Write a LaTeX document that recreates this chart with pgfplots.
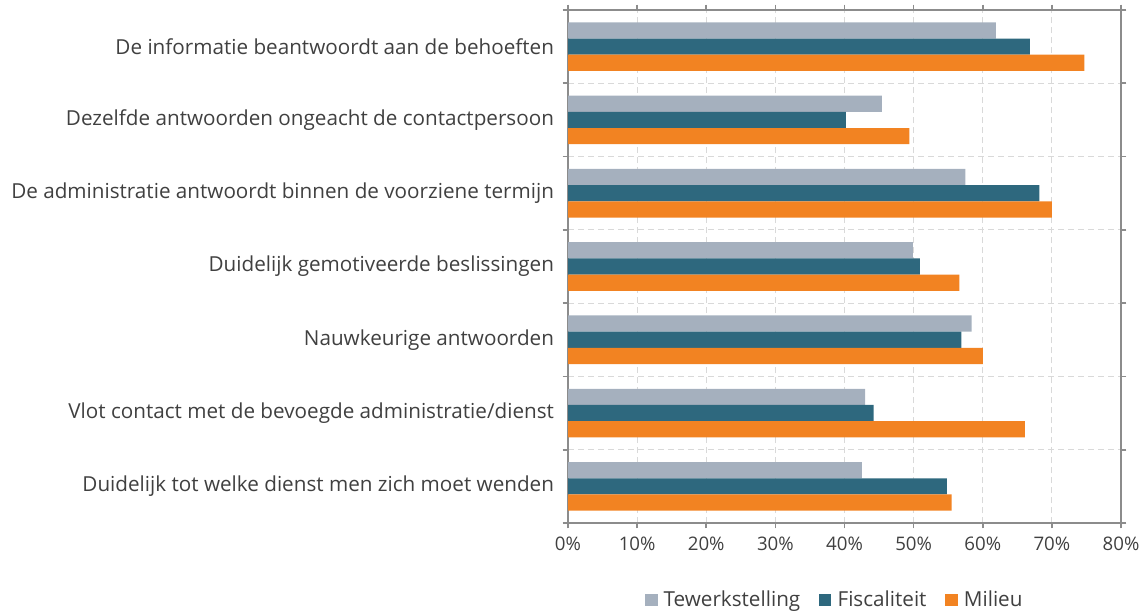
\documentclass[border=0pt]{standalone}
\usepackage{pgfplots}
\pgfplotsset{compat=1.18}
\usepackage{fontspec}
\setmainfont{Open Sans}
\definecolor{cTew}{HTML}{A5B0BE}
\definecolor{cFis}{HTML}{2E687E}
\definecolor{cMil}{HTML}{F28322}
\definecolor{txt}{HTML}{404040}
\definecolor{axgray}{HTML}{8C8C8C}
\definecolor{grd}{HTML}{D9D9D9}
\begin{document}
\begin{tikzpicture}
\useasboundingbox (0,0) rectangle (858.75pt,459pt);
\begin{axis}[
  at={(426pt,66.75pt)}, anchor=south west,
  scale only axis, width=414.75pt, height=384.75pt,
  xbar, bar width=12.15pt,
  xmin=0, xmax=80, ymin=0.5, ymax=7.5,
  xtick={0,10,...,80},
  xticklabels={0\%,10\%,20\%,30\%,40\%,50\%,60\%,70\%,80\%},
  ytick={0.5,1.5,...,7.5}, yticklabels={},
  extra y ticks={1,2,3,4,5,6,7},
  extra y tick labels={Duidelijk tot welke dienst men zich moet wenden,Vlot contact met de bevoegde administratie/dienst,Nauwkeurige antwoorden,Duidelijk gemotiveerde beslissingen,De administratie antwoordt binnen de voorziene termijn,Dezelfde antwoorden ongeacht de contactpersoon,De informatie beantwoordt aan de behoeften},
  extra y tick style={grid=none, major tick length=0pt},
  xmajorgrids, ymajorgrids,
  major grid style={grd, dash pattern=on 4.5pt off 3pt, line width=0.8pt},
  axis line style={axgray, line width=1.6pt},
  tick style={axgray, line width=1.2pt},
  tick align=outside, major tick length=4pt,
  xticklabel style={font=\fontsize{14pt}{16pt}\selectfont, text=txt, yshift=-3pt},
  yticklabel style={font=\fontsize{15.5pt}{17pt}\selectfont, text=txt, xshift=-7pt},
  legend columns=3,
  legend style={draw=none, at={(0.483,-0.150)}, anchor=center, font=\fontsize{15.5pt}{17pt}\selectfont, text=txt,
    /tikz/every even column/.append style={column sep=12pt}},
  legend image code/.code={\fill[#1] (0pt,-4.7pt) rectangle (9.4pt,4.7pt); \path (12pt,0pt);},
]
\addplot[fill=cTew, draw=none, bar shift=12.15pt] coordinates {
(61.9,7) (45.4,6) (57.5,5) (49.9,4) (58.4,3) (43.0,2) (42.5,1)};
\addplot[fill=cFis, draw=none, bar shift=0pt] coordinates {
(66.8,7) (40.2,6) (68.2,5) (50.9,4) (56.9,3) (44.2,2) (54.8,1)};
\addplot[fill=cMil, draw=none, bar shift=-12.15pt] coordinates {
(74.7,7) (49.4,6) (70.0,5) (56.6,4) (60.0,3) (66.1,2) (55.5,1)};
\legend{Tewerkstelling,Fiscaliteit,Milieu}
\end{axis}
\end{tikzpicture}
\end{document}
